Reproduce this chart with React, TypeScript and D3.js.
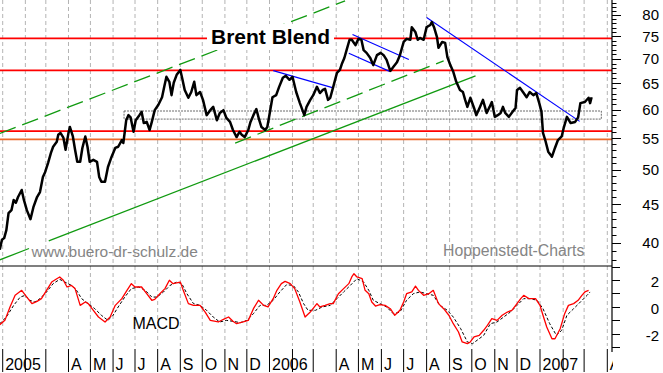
import React from 'react';
import * as d3 from 'd3';

// ---- Price (Brent, USD) : day offset from 2005-01-01 and close ----
const priceDays = [-4,-1,2,5,8,12,15,18,21,26,29,33,38,42,47,51,55,58,62,66,69,74,76,79,83,86,90,92,96,99,102,106,109,113,116,119,124,129,132,135,140,144,149,154,158,163,165,167,169,172,175,179,182,187,190,193,197,201,204,208,213,218,221,224,228,231,234,238,243,246,249,254,258,262,265,270,274,279,284,288,293,297,302,306,311,315,320,324,327,331,336,339,343,347,351,354,359,362,366,369,374,378,383,387,392,396,401,406,412,415,420,424,429,433,437,440,444,447,451,456,460,463,466,469,473,476,481,485,489,492,496,501,505,510,515,519,523,528,532,537,541,546,550,555,557,562,565,568,573,577,582,584,587,591,593,598,602,605,609,613,617,622,626,629,632,636,641,644,649,653,658,662,665,669,673,677,680,683,688,693,697,699,703,707,712,716,721,725,729,732,734,737,741,746,750,754,759,762,766,771,777,781,784,790,795,797,799];
const priceValues = [39.2,40.4,40.6,41.6,43.8,44.2,45.6,45.2,46.0,47.0,45.6,44.2,43.0,44.6,46.0,46.7,48.9,49.6,51.0,52.6,53.6,54.4,55.6,55.9,55.1,53.1,55.9,56.9,55.3,53.1,51.2,51.2,53.4,55.3,53.6,51.2,51.5,51.2,48.9,48.2,48.2,50.4,52.0,53.4,53.6,54.7,54.2,56.1,58.1,59.0,58.6,56.1,58.1,59.0,59.6,57.6,57.8,56.4,57.8,59.9,60.9,62.3,64.3,66.3,65.3,62.7,65.1,66.7,67.7,65.7,63.7,62.2,63.3,65.3,62.7,63.3,61.8,59.0,59.9,60.5,58.1,59.4,59.9,58.5,57.8,56.4,55.2,56.1,55.6,55.2,56.4,57.8,59.0,60.1,58.1,56.9,56.4,56.9,59.9,62.3,62.7,64.3,66.1,66.5,65.7,66.3,63.3,61.2,59.0,60.5,61.8,62.7,64.3,63.1,63.7,63.9,61.8,62.2,64.3,67.1,67.7,69.1,70.2,71.9,74.2,74.2,73.0,74.4,74.2,71.9,71.3,70.2,68.7,70.8,71.3,70.8,69.8,67.5,68.3,69.3,70.8,73.7,74.4,74.2,77.1,75.9,74.2,74.6,74.2,77.1,77.6,78.3,77.1,74.8,72.4,73.7,73.5,70.4,68.7,67.3,65.3,63.7,63.3,61.8,60.5,62.2,60.3,59.0,60.5,61.8,59.4,60.5,61.4,58.7,59.0,59.4,60.5,59.4,58.7,59.6,60.3,63.7,64.1,63.3,62.3,63.3,62.7,63.1,61.2,59.6,55.9,54.7,52.8,52.0,53.4,54.7,55.3,56.9,58.7,57.6,57.8,58.6,61.2,61.4,62.2,61.2,62.3];

// ---- MACD (red) ----
const macdDays = [-4,3,10,17,26,33,40,47,53,60,67,74,78,83,88,94,99,106,113,117,124,131,140,147,154,163,170,176,181,190,197,204,208,215,222,228,233,243,247,254,261,270,277,284,295,302,309,315,320,329,336,343,350,357,363,370,375,381,386,393,399,406,413,420,429,433,440,447,451,458,465,472,476,479,483,490,494,499,503,508,514,521,528,534,541,546,550,557,562,566,573,580,586,593,600,607,613,620,625,632,636,641,648,654,659,665,672,679,686,692,699,704,708,715,724,730,734,739,746,750,757,763,768,775,781,786,790,795];
const macdValues = [-1.34,-1.02,-0.02,0.85,1.22,0.72,0.23,0.40,0.60,1.22,1.84,2.09,2.22,1.97,1.47,1.59,1.35,0.10,0.35,0.23,-0.27,-0.77,-1.14,-0.77,0.10,0.60,1.22,1.72,1.47,1.47,0.97,0.48,0.55,0.97,1.35,1.97,1.72,1.84,1.22,0.23,0.10,0.10,-0.40,-1.02,-1.14,-0.94,-0.77,-1.09,-1.27,-1.14,-1.02,-0.15,0.48,0.10,-0.02,0.60,1.22,1.72,1.89,1.72,1.35,0.35,-0.77,-0.40,0.23,-0.02,0.10,0.23,0.23,0.97,1.35,1.72,2.22,2.46,2.22,2.09,1.22,0.97,0.35,0.05,0.15,0.10,-0.15,-0.64,-0.27,0.35,0.97,1.10,1.54,1.22,0.85,0.97,1.22,0.23,-0.15,-0.64,-1.27,-1.89,-2.63,-2.76,-2.63,-2.26,-2.14,-1.76,-1.39,-0.89,-1.02,-0.64,-0.40,-0.27,0.23,0.60,0.85,0.60,0.60,0.10,-0.64,-1.51,-2.39,-2.39,-1.64,-0.52,0.10,0.23,0.48,0.85,1.10,1.22];

// ---- MACD signal (black dashed) ----
const signalDays = [-4,5,15,24,31,37,44,51,60,69,78,85,94,101,108,117,126,135,144,151,158,167,176,186,195,204,211,220,229,238,245,252,261,270,279,288,297,306,315,325,334,343,352,361,370,379,388,397,404,411,417,427,436,447,456,465,474,483,492,499,505,514,523,532,541,550,559,568,577,586,595,605,613,623,632,639,645,654,663,672,681,690,699,708,717,726,734,743,752,759,766,775,784,793,797];
const signalValues = [-1.27,-0.77,0.10,0.72,0.85,0.48,0.35,0.60,1.10,1.72,2.04,1.84,1.59,1.22,0.60,0.23,-0.15,-0.64,-1.02,-0.64,-0.02,0.72,1.35,1.47,1.22,0.72,0.72,1.10,1.59,1.84,1.72,0.97,0.23,0.10,-0.27,-0.77,-1.14,-1.02,-1.09,-1.19,-1.02,-0.52,0.10,0.10,0.48,1.10,1.64,1.59,1.10,0.23,-0.27,-0.27,-0.02,0.10,0.60,1.10,1.59,2.09,1.84,1.22,0.48,0.23,-0.02,-0.52,-0.40,0.48,0.97,1.10,0.97,0.85,0.10,-0.27,-0.77,-1.64,-2.63,-2.76,-2.51,-2.14,-1.27,-1.14,-0.77,-0.40,0.10,0.60,0.60,0.48,-0.15,-1.27,-2.14,-1.76,-0.64,-0.15,0.35,0.85,1.10];

// ---- Drawn analysis objects (day offset, price) ----
const redLevels = [74.5, 67.6, 56.2];
const orangeLevel = 54.8;
const rangeBoxDays = [166, 812];
const rangeBoxPrices = [59.75, 58.3];
const upperChannelDays = [-4, 467];
const upperChannelPrices = [55.8, 83.5];
const middleChannelDays = [318, 600];
const middleChannelPrices = [54.2, 69.6];
const lowerTrendDays = [-4, 643];
const lowerTrendPrices = [38.0, 66.5];
const lowerTrendGapDays = [36, 63];
const blueLines = [
  { days: [370, 451], prices: [67.55, 64.1] },
  { days: [477, 553], prices: [75.4, 69.9] },
  { days: [472, 527], prices: [71.2, 67.4] },
  { days: [577, 783], prices: [79.4, 57.9] },
];

const priceTicks = [40, 45, 50, 55, 60, 65, 70, 75, 80];
const macdTicks = [2, 0, -2];
const monthLetters = ['', '', '', 'A', 'M', 'J', 'J', 'A', 'S', 'O', 'N', 'D'];

const FONT = "Arial, 'Liberation Sans', sans-serif";

export default function App() {
  const base = new Date(2005, 0, 1);
  const toDate = (d: number) => d3.timeDay.offset(base, d);
  const x = d3
    .scaleTime()
    .domain([new Date(2005, 0, 1), new Date(2006, 0, 1), new Date(2007, 0, 1), new Date(2007, 3, 1)])
    .range([2.7, 269.5, 540, 607.3]);
  const y = d3.scaleLog().domain([40, 80]).range([243, 15]);
  const ym = d3.scaleLinear().domain([-2, 2]).range([333.5, 279.9]);

  const axisX = 612;
  const priceBottom = 266;
  const macdBottom = 346;

  const priceLine = d3
    .line<number>()
    .x((_, i) => x(toDate(priceDays[i])))
    .y((v) => y(v))(priceValues) as string;
  const macdLine = d3
    .line<number>()
    .x((_, i) => x(toDate(macdDays[i])))
    .y((v) => ym(v))(macdValues) as string;
  const signalLine = d3
    .line<number>()
    .x((_, i) => x(toDate(signalDays[i])))
    .y((v) => ym(v))(signalValues) as string;

  const seg = (days: number[], prices: number[]) => ({
    x1: x(toDate(days[0])),
    y1: y(prices[0]),
    x2: x(toDate(days[1])),
    y2: y(prices[1]),
  });
  // price on lower trend at given day (log-linear)
  const lowerAt = (d: number) => {
    const t = (d - lowerTrendDays[0]) / (lowerTrendDays[1] - lowerTrendDays[0]);
    return Math.exp(Math.log(lowerTrendPrices[0]) + t * (Math.log(lowerTrendPrices[1]) - Math.log(lowerTrendPrices[0])));
  };
  const lowerA = seg([lowerTrendDays[0], lowerTrendGapDays[0]], [lowerTrendPrices[0], lowerAt(lowerTrendGapDays[0])]);
  const lowerB = seg([lowerTrendGapDays[1], lowerTrendDays[1]], [lowerAt(lowerTrendGapDays[1]), lowerTrendPrices[1]]);
  const upperCh = seg(upperChannelDays, upperChannelPrices);
  const midCh = seg(middleChannelDays, middleChannelPrices);

  const months = d3.timeMonth.range(new Date(2005, 0, 1), new Date(2007, 4, 1));

  const priceMinor = d3.range(38, 84);
  const macdMinor = d3.range(-3, 4);

  const green = '#109a10';

  return (
    <svg
      width={663}
      height={373}
      style={{ position: 'absolute', left: 0, top: 0, display: 'block', background: '#fff' }}
      fontFamily={FONT}
    >
      <defs>
        <clipPath id="pclip">
          <rect x={0} y={0} width={axisX} height={priceBottom} />
        </clipPath>
        <clipPath id="mclip">
          <rect x={0} y={priceBottom} width={axisX} height={macdBottom - priceBottom} />
        </clipPath>
        <clipPath id="lclip">
          <rect x={0} y={346} width={axisX + 1} height={30} />
        </clipPath>
      </defs>
      <rect x={0} y={0} width={663} height={373} fill="#fff" />

      {/* vertical month gridlines */}
      {months.map((m, i) => (
        <line
          key={'g' + i}
          x1={x(m)}
          x2={x(m)}
          y1={0}
          y2={macdBottom}
          stroke="#b4b4b4"
          strokeWidth={1}
          strokeDasharray="4,3"
        />
      ))}

      <g clipPath="url(#pclip)">
        {/* range box */}
        <rect
          x={x(toDate(rangeBoxDays[0]))}
          y={y(rangeBoxPrices[0])}
          width={x(toDate(rangeBoxDays[1])) - x(toDate(rangeBoxDays[0]))}
          height={y(rangeBoxPrices[1]) - y(rangeBoxPrices[0])}
          fill="none"
          stroke="#6a6a6a"
          strokeWidth={1}
          strokeDasharray="2,1"
        />
        {/* horizontal levels */}
        {redLevels.map((p, i) => (
          <line key={'r' + i} x1={0} x2={axisX} y1={y(p)} y2={y(p)} stroke="#ff0000" strokeWidth={1.7} />
        ))}
        <line x1={0} x2={axisX} y1={y(orangeLevel)} y2={y(orangeLevel)} stroke="#ec6a2c" strokeWidth={1.7} />

        {/* green trend lines */}
        <line {...upperCh} stroke={green} strokeWidth={1.3} strokeDasharray="17,7" />
        <line {...midCh} stroke={green} strokeWidth={1.3} strokeDasharray="17,7" />
        <line {...lowerA} stroke={green} strokeWidth={1.3} />
        <line {...lowerB} stroke={green} strokeWidth={1.3} />

        {/* blue trend lines */}
        {blueLines.map((b, i) => (
          <line key={'b' + i} {...seg(b.days, b.prices)} stroke="#0000ff" strokeWidth={1.1} />
        ))}

        {/* title with white background */}
        <rect x={207} y={24} width={127} height={26} fill="#fff" />
        <text x={211} y={43.5} fontSize={21} fontWeight="bold" fill="#000">
          Brent Blend
        </text>

        {/* price */}
        <path d={priceLine} fill="none" stroke="#000" strokeWidth={2.5} strokeLinejoin="round" />

        <text x={31.5} y={257} fontSize={15.5} fill="#858585">
          www.buero-dr-schulz.de
        </text>
        <text x={443} y={256} fontSize={15.8} fill="#858585">
          Hoppenstedt-Charts
        </text>
      </g>

      {/* MACD panel */}
      <g clipPath="url(#mclip)">
        <path d={signalLine} fill="none" stroke="#000" strokeWidth={1} strokeDasharray="3,2" />
        <path d={macdLine} fill="none" stroke="#ff0000" strokeWidth={1.3} strokeLinejoin="round" />
      </g>
      <text x={132.5} y={328.7} fontSize={16} fill="#000">
        MACD
      </text>

      {/* frame lines */}
      <line x1={0} x2={axisX} y1={priceBottom} y2={priceBottom} stroke="#000" strokeWidth={1.2} />
      <line x1={axisX} x2={axisX} y1={0} y2={352} stroke="#000" strokeWidth={1.2} />

      {/* price axis ticks */}
      {priceMinor.map((v) => (
        <line
          key={'pt' + v}
          x1={axisX}
          x2={v % 5 === 0 ? axisX + 9 : axisX + 4.5}
          y1={Math.round(y(v)) + 0.5}
          y2={Math.round(y(v)) + 0.5}
          stroke="#000"
          strokeWidth={1}
        />
      ))}
      {priceTicks.map((v) => (
        <text key={'pl' + v} x={659} y={y(v)} dy="0.36em" fontSize={15} textAnchor="end" fill="#000">
          {v}
        </text>
      ))}

      {/* macd axis */}
      {macdMinor.map((v) => (
        <line
          key={'mt' + v}
          x1={axisX}
          x2={axisX + 8}
          y1={Math.round(ym(v)) + 0.5}
          y2={Math.round(ym(v)) + 0.5}
          stroke="#000"
          strokeWidth={1}
        />
      ))}
      {macdTicks.map((v) => (
        <text key={'ml' + v} x={659} y={ym(v) + 2} dy="0.36em" fontSize={15} textAnchor="end" fill="#000">
          {v < 0 ? '-' + Math.abs(v) : v}
        </text>
      ))}

      {/* month label row */}
      <g clipPath="url(#lclip)">
        {months.map((m, i) => {
          const mx = x(m);
          const mi = m.getMonth();
          const label = mi === 0 ? String(m.getFullYear()) : monthLetters[mi];
          return (
            <g key={'ml' + i}>
              <line x1={mx} x2={mx} y1={349} y2={372} stroke="#000" strokeWidth={1} />
              {label && (
                <text x={mx + 2.5} y={370} fontSize={16} fill="#000">
                  {label}
                </text>
              )}
            </g>
          );
        })}
      </g>
    </svg>
  );
}
